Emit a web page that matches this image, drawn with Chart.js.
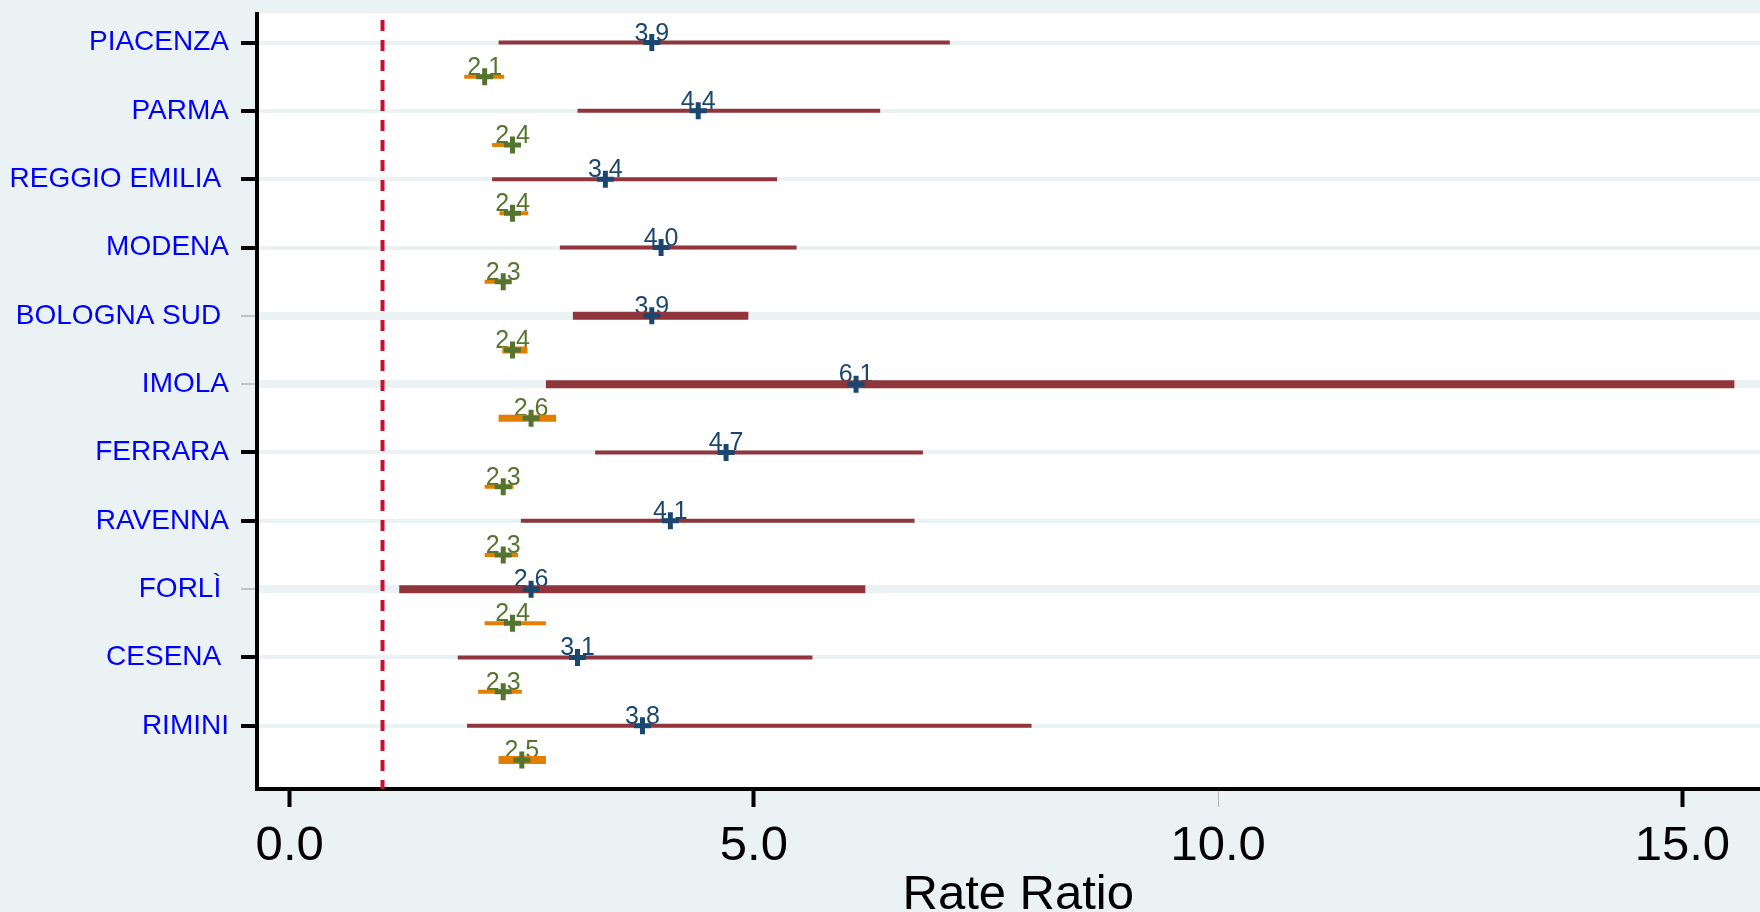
<!DOCTYPE html>
<html>
<head>
<meta charset="utf-8">
<title>Rate Ratio per distretto</title>
<script src="https://cdn.jsdelivr.net/npm/chart.js@4.4.1/dist/chart.umd.min.js"></script>
<style>
  html, body { margin: 0; padding: 0; overflow: hidden; background: #eaf2f3; }
  #wrap { position: absolute; left: 0; top: 0; width: 1793px; height: 912px; }
</style>
</head>
<body>
<div id="wrap"><canvas id="rrChart"></canvas></div>
<script>
// districts, top to bottom
const districts = ['PIACENZA', 'PARMA', 'REGGIO EMILIA ', 'MODENA', 'BOLOGNA SUD ', 'IMOLA',
                   'FERRARA', 'RAVENNA', 'FORLÌ ', 'CESENA ', 'RIMINI'];

// first series (navy markers, maroon intervals)
const rrA = [3.9, 4.4, 3.4, 4.0, 3.9, 6.1, 4.7, 4.1, 2.6, 3.1, 3.8];
const loA = [2.25, 3.10, 2.18, 2.91, 3.05, 2.76, 3.29, 2.49, 1.18, 1.81, 1.91];
const hiA = [7.11, 6.36, 5.25, 5.46, 4.94, 15.56, 6.82, 6.73, 6.20, 5.63, 7.99];

// second series (green markers, orange intervals)
const rrB = [2.1, 2.4, 2.4, 2.3, 2.4, 2.6, 2.3, 2.3, 2.4, 2.3, 2.5];
const loB = [1.88, 2.18, 2.26, 2.10, 2.29, 2.25, 2.10, 2.10, 2.10, 2.03, 2.25];
const hiB = [2.31, 2.49, 2.57, 2.38, 2.56, 2.87, 2.41, 2.46, 2.76, 2.50, 2.76];

const xTicks = [0, 5, 10, 15];
const refLine = 1;

// line weights per row
const widthA = [4, 4, 4, 4, 8, 8, 4, 4, 8, 4, 4];
const widthB = [4, 4, 4, 4, 7, 7, 4, 4, 4, 4, 8];
const thinTickRows = [4, 5, 8];

const NAVY = '#1a476f', MAROON = '#90353b', GREEN = '#55752f', ORANGE = '#e37e00';
const FONT = "'Liberation Sans', Arial, sans-serif";
Chart.defaults.font.family = FONT;

const rowA = i => 2 * i;
const rowB = i => 2 * i + 1;

const datasets = [
  {
    data: rrA.map((v, i) => ({ x: v, y: rowA(i) })),
    pointStyle: 'cross', pointRadius: 8.5, pointBorderWidth: 5,
    borderColor: NAVY, backgroundColor: NAVY, labelColor: NAVY
  },
  {
    data: rrB.map((v, i) => ({ x: v, y: rowB(i) })),
    pointStyle: 'cross', pointRadius: 8.5, pointBorderWidth: 5,
    borderColor: GREEN, backgroundColor: GREEN, labelColor: GREEN
  }
];

districts.forEach((d, i) => {
  datasets.push({
    data: [{ x: loA[i], y: rowA(i) }, { x: hiA[i], y: rowA(i) }],
    showLine: true, pointRadius: 0, borderColor: MAROON, borderWidth: widthA[i]
  });
  datasets.push({
    data: [{ x: loB[i], y: rowB(i) }, { x: hiB[i], y: rowB(i) }],
    showLine: true, pointRadius: 0, borderColor: ORANGE, borderWidth: widthB[i]
  });
});

datasets.push({
  data: [{ x: refLine, y: -0.85 }, { x: refLine, y: 2 * districts.length - 0.15 }],
  showLine: true, pointRadius: 0, borderColor: '#c8102e', borderWidth: 4,
  borderDash: [11, 9], borderDashOffset: 13.5
});

const plotBackground = {
  id: 'plotBackground',
  beforeDraw(chart) {
    const { ctx, chartArea: a } = chart;
    ctx.save();
    ctx.fillStyle = '#ffffff';
    ctx.fillRect(a.left, a.top, a.right - a.left, a.bottom - a.top);
    ctx.restore();
  }
};

// numbers written just above each marker
const valueLabels = {
  id: 'valueLabels',
  beforeDatasetsDraw(chart) {
    const ctx = chart.ctx;
    ctx.save();
    ctx.font = '25px ' + FONT;
    ctx.textAlign = 'center';
    ctx.textBaseline = 'alphabetic';
    chart.data.datasets.forEach((ds, di) => {
      if (!ds.labelColor) return;
      ctx.fillStyle = ds.labelColor;
      chart.getDatasetMeta(di).data.forEach((pt, i) => {
        ctx.fillText(ds.data[i].x.toFixed(1), pt.x, pt.y - 2);
      });
    });
    ctx.restore();
  }
};

new Chart(document.getElementById('rrChart'), {
  type: 'scatter',
  data: { datasets },
  plugins: [plotBackground, valueLabels],
  options: {
    responsive: true,
    maintainAspectRatio: false,
    animation: false,
    layout: { padding: { top: 13.5, left: 0, right: 0, bottom: 0 } },
    plugins: { legend: { display: false }, tooltip: { enabled: false } },
    scales: {
      x: {
        type: 'linear',
        min: -0.352,
        max: 16.046,
        afterBuildTicks: s => { s.ticks = xTicks.map(v => ({ value: v })); },
        afterFit: s => { s.height = 123; s.paddingLeft = 0; s.paddingRight = 0; },
        ticks: {
          callback: v => v.toFixed(1),
          color: '#000', padding: 10,
          font: { size: 49, lineHeight: 1.2 }
        },
        grid: {
          drawOnChartArea: false,
          drawTicks: true,
          tickLength: 18,
          tickColor: c => c.tick && c.tick.value === 10 ? '#b5b5b5' : '#000',
          tickWidth: c => c.tick && c.tick.value === 10 ? 1 : 4
        },
        border: { display: true, color: '#000', width: 4 },
        title: {
          display: true, text: 'Rate Ratio', color: '#000',
          font: { size: 49, lineHeight: 0.68 }, padding: { top: 0, bottom: 0 }
        }
      },
      y: {
        type: 'linear',
        reverse: true,
        min: -0.85,
        max: 2 * districts.length - 0.15,
        afterBuildTicks: s => { s.ticks = districts.map((d, i) => ({ value: rowA(i) })); },
        afterFit: s => { s.width = 257; s.paddingTop = 0; s.paddingBottom = 0; },
        ticks: {
          callback: v => districts[v / 2],
          color: '#0000ff', padding: 12,
          font: { size: 28 }
        },
        grid: {
          color: '#eaf2f3',
          lineWidth: c => thinTickRows.includes(c.index) ? 8 : 4,
          tickLength: 16,
          tickColor: c => thinTickRows.includes(c.index) ? '#b5b5b5' : '#000',
          tickWidth: c => thinTickRows.includes(c.index) ? 1.5 : 4
        },
        border: { display: true, color: '#000', width: 4 }
      }
    }
  }
});
</script>
</body>
</html>
